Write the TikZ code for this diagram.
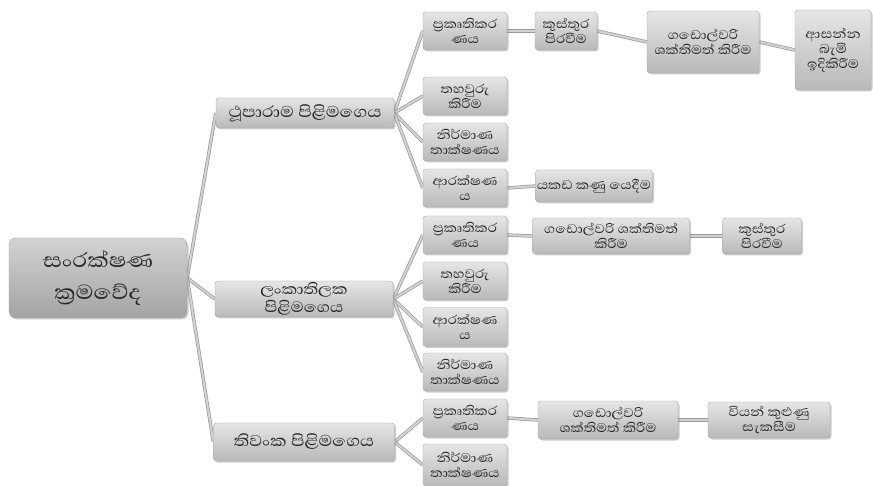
\documentclass[tikz,border=0pt]{standalone}
\usepackage{fontspec}
\newfontfamily\sinhfont[Script=Sinhala, FakeStretch=1.15]{Abhaya Libre}
\usetikzlibrary{shadows,backgrounds}
\begin{document}
\begin{tikzpicture}[x=1pt,y=-1pt,
  box/.style={draw=gray!70, rounded corners=3pt, top color=gray!20, bottom color=gray!55,
    inner sep=0.5pt, align=center, text=black!85,
    font=\sinhfont\fontsize{16}{15}\selectfont,
    drop shadow={opacity=0.4, shadow xshift=1.5pt, shadow yshift=-1.5pt}},
  midbox/.style={box, font=\sinhfont\fontsize{20}{14}\selectfont},
  twobox/.style={box, font=\sinhfont\fontsize{19}{17.5}\selectfont},
  rootbox/.style={box, rounded corners=7pt, top color=gray!35, bottom color=gray!72,
    font=\sinhfont\fontsize{26}{32}\selectfont},
  link/.style={draw=gray!80, double=gray!35, double distance=2pt, line width=0.7pt}
]
\useasboundingbox (0,0) rectangle (873,486);

% root and level 1
\node[rootbox, minimum width=178pt, minimum height=80pt] (root) at (98,278) {සංරක්ෂණ\\ක්^^^^200dරමවේද};
\node[midbox, minimum width=178pt, minimum height=30pt] (thu) at (305,113) {ථූපාරාම පිළිමගෙය};
\node[twobox, minimum width=178pt, minimum height=36pt] (lan) at (304,299) {ලංකාතිලක\\පිළිමගෙය};
\node[midbox, minimum width=181pt, minimum height=38pt] (tiv) at (304,442) {තිවංක පිළිමගෙය};

% Thuparama children
\node[box, minimum width=84pt, minimum height=38pt] (p1) at (465,31) {ප්^^^^200dරකෘතිකර\\ණය};
\node[box, minimum width=84pt, minimum height=38pt] (t1) at (465,96) {තහවුරු\\කිරීම};
\node[box, minimum width=84pt, minimum height=38pt] (n1) at (465,142) {නිර්මාණ\\තාක්ෂණය};
\node[box, minimum width=84pt, minimum height=38pt] (a1) at (465,188) {ආරක්ෂණ\\ය};

\node[box, minimum width=62pt, minimum height=38pt] (k1) at (566,31) {කුස්තුර\\පිරවීම};
\node[box, minimum width=112pt, minimum height=62pt] (g1) at (703,42) {ගඩොල්වරි\\ශක්තිමත් කිරීම};
\node[box, minimum width=76pt, minimum height=80pt] (as) at (833,50) {ආසන්න\\බැමි\\ඉදිකිරීම};
\node[box, minimum width=117pt, minimum height=32pt] (yk) at (594,186) {යකඩ කණු යෙදීම};

% Lankatilaka children
\node[box, minimum width=84pt, minimum height=38pt] (p2) at (465,235) {ප්^^^^200dරකෘතිකර\\ණය};
\node[box, minimum width=84pt, minimum height=38pt] (t2) at (465,281) {තහවුරු\\කිරීම};
\node[box, minimum width=84pt, minimum height=39pt] (a2) at (465,327) {ආරක්ෂණ\\ය};
\node[box, minimum width=84pt, minimum height=38pt] (n2) at (465,372) {නිර්මාණ\\තාක්ෂණය};

\node[box, minimum width=157pt, minimum height=36pt] (g2) at (611,236) {ගඩොල්වරි ශක්තිමත්\\කිරීම};
\node[box, minimum width=79pt, minimum height=36pt] (k2) at (762,236) {කුස්තුර\\පිරවීම};

% Tivanka children
\node[box, minimum width=84pt, minimum height=38pt] (p3) at (465,418) {ප්^^^^200dරකෘතිකර\\ණය};
\node[box, minimum width=84pt, minimum height=42pt] (n3) at (465,465) {නිර්මාණ\\තාක්ෂණය};

\node[box, minimum width=140pt, minimum height=38pt] (g3) at (608,420) {ගඩොල්වරි\\ශක්තිමත් කිරීම};
\node[box, minimum width=122pt, minimum height=36pt] (vy) at (769,420) {වියන් කුළුණු\\සැකසීම};

\begin{pgfonlayer}{background}
\foreach \c in {thu,lan,tiv} \draw[link] (root.east) -- (\c.west);
\foreach \c in {p1,t1,n1,a1} \draw[link] (thu.east) -- (\c.west);
\foreach \c in {p2,t2,a2,n2} \draw[link] (lan.east) -- (\c.west);
\foreach \c in {p3,n3} \draw[link] (tiv.east) -- (\c.west);
\draw[link] (p1.east) -- (k1.west);
\draw[link] (k1.east) -- (g1.west);
\draw[link] (g1.east) -- (as.west);
\draw[link] (a1.east) -- (yk.west);
\draw[link] (p2.east) -- (g2.west);
\draw[link] (g2.east) -- (k2.west);
\draw[link] (p3.east) -- (g3.west);
\draw[link] (g3.east) -- (vy.west);
\end{pgfonlayer}
\end{tikzpicture}
\end{document}
